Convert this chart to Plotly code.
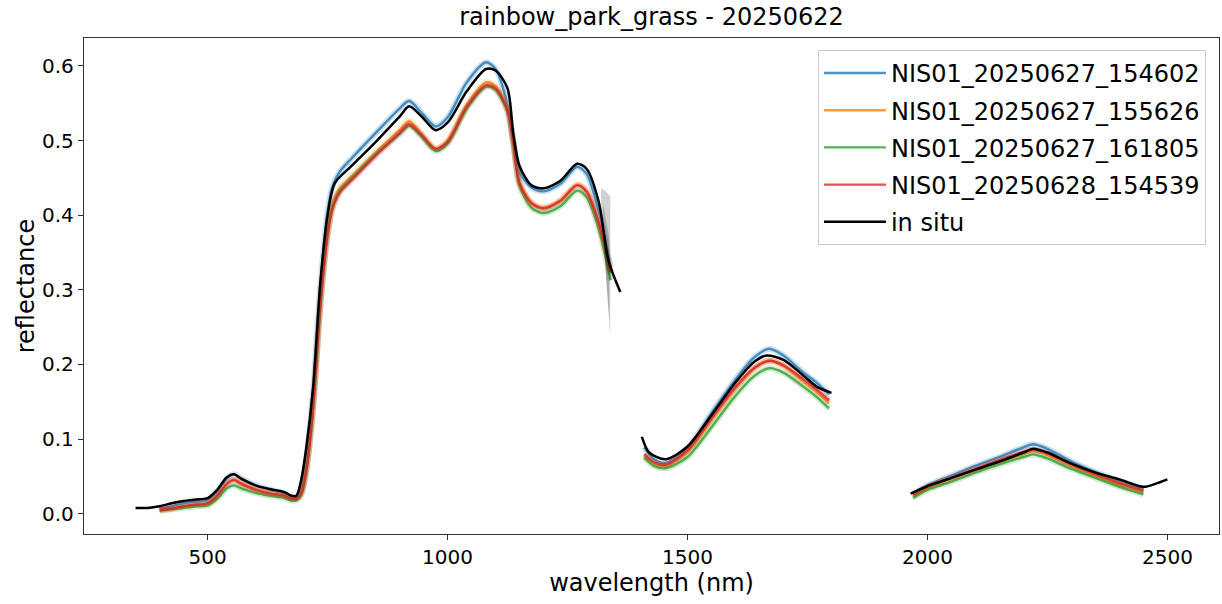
import plotly.graph_objects as go

# ---------------- data ----------------
series_names = ["NIS01_20250627_154602", "NIS01_20250627_155626",
                "NIS01_20250627_161805", "NIS01_20250628_154539"]

nis_wl = [400, 425, 450, 475, 500, 520, 540, 555, 570, 600, 630, 660, 675, 685, 695,
          705, 720, 735, 750, 760, 775, 800, 850, 900, 920, 945, 975, 1000, 1040, 1080,
          1100, 1125, 1137, 1150, 1175, 1200, 1235, 1270, 1290, 1315, 1340, None,
          1410, 1430, 1455, 1500, 1550, 1600, 1640, 1670, 1700, 1740, 1770, 1795, None,
          1970, 2000, 2050, 2100, 2150, 2200, 2220, 2250, 2300, 2350, 2400, 2450]

nis_154602 = [.007, .010, .014, .016, .018, .029, .047, .053, .047, .038, .032, .027, .022, .022, .033,
              .070, .165, .305, .405, .438, .458, .476, .510, .543, .553, .538, .519, .531, .578, .605,
              .596, .548, .500, .458, .437, .432, .442, .465, .455, .405, .330, None,
              .089, .073, .068, .088, .135, .180, .210, .221, .212, .190, .175, .160, None,
              .026, .038, .051, .064, .076, .089, .093, .087, .070, .056, .044, .033]

nis_155626 = [.005, .007, .010, .012, .014, .024, .040, .046, .041, .033, .028, .024, .020, .020, .028,
              .058, .148, .285, .380, .415, .436, .452, .484, .514, .526, .510, .489, .500, .548, .578,
              .573, .543, .498, .445, .417, .410, .420, .441, .432, .390, .322, None,
              .078, .068, .064, .083, .126, .168, .195, .205, .198, .178, .163, .148, None,
              .024, .035, .047, .059, .070, .080, .084, .079, .064, .051, .039, .029]

nis_161805 = [.004, .006, .008, .010, .011, .020, .034, .038, .034, .028, .024, .021, .0175, .018, .025,
              .053, .142, .280, .375, .410, .432, .449, .481, .509, .520, .506, .486, .496, .543, .572,
              .568, .540, .500, .440, .410, .403, .412, .433, .424, .382, .313, None,
              .075, .064, .061, .076, .116, .158, .185, .195, .189, .171, .156, .141, None,
              .021, .032, .043, .055, .066, .076, .0795, .074, .060, .048, .036, .026]

nis_154539 = [.005, .007, .010, .012, .014, .024, .040, .045, .040, .032, .027, .024, .020, .020, .027,
              .055, .142, .278, .372, .408, .430, .447, .480, .510, .522, .508, .489, .498, .545, .574,
              .570, .540, .495, .442, .416, .409, .419, .440, .431, .390, .324, None,
              .080, .069, .066, .085, .128, .170, .196, .205, .199, .181, .166, .152, None,
              .025, .036, .048, .060, .072, .083, .086, .081, .066, .053, .041, .031]

insitu_wl = [350, 375, 400, 425, 450, 475, 500, 520, 540, 555, 570, 600, 630, 660, 675, 685,
             695, 705, 720, 735, 750, 765, 800, 850, 900, 920, 945, 975, 1000, 1040, 1080,
             1100, 1125, 1137, 1150, 1175, 1200, 1235, 1270, 1290, 1315, 1335, 1360, None,
             1405, 1420, 1455, 1500, 1550, 1600, 1640, 1665, 1700, 1740, 1770, 1800, None,
             1965, 2000, 2050, 2100, 2150, 2200, 2220, 2250, 2300, 2350, 2400, 2450, 2475, 2500]

insitu = [.0075, .0078, .010, .014, .017, .019, .021, .032, .049, .053, .047, .038, .033, .029, .024, .024,
          .045, .085, .170, .310, .400, .443, .466, .498, .532, .546, .533, .514, .524, .566, .596,
          .594, .570, .509, .466, .440, .436, .446, .469, .462, .418, .340, .297, None,
          .103, .082, .073, .090, .132, .176, .204, .212, .206, .186, .170, .162, None,
          .027, .037, .048, .059, .070, .082, .087, .082, .067, .055, .046, .036, .040, .046]

# in situ spread near the end of the NIR segment
insitu_band_wl = [1320, 1326, 1332, 1339]
insitu_band_hi = [.436, .434, .430, .425]
insitu_band_lo = [.410, .360, .300, .237]
insitu_inner_wl = [1324, 1330, 1337]
insitu_inner_hi = [.415, .395, .370]
insitu_inner_lo = [.385, .320, .260]

colors = ["#1f77b4", "#ff7f0e", "#2ca02c", "#d62728"]
nis_values = [nis_154602, nis_155626, nis_161805, nis_154539]

# ---------------- figure ----------------
FONT = "DejaVu Sans"
fig = go.Figure()

def rgba(hexc, a):
    h = hexc.lstrip("#")
    return "rgba(%d,%d,%d,%.2f)" % (int(h[0:2], 16), int(h[2:4], 16), int(h[4:6], 16), a)

for i, (name, vals, col) in enumerate(zip(series_names, nis_values, colors)):
    # faint halo (spread) under each line
    fig.add_trace(go.Scatter(x=nis_wl, y=vals, mode="lines", showlegend=False,
                             legendgroup="g%d" % i, hoverinfo="skip",
                             line=dict(color=rgba(col, 0.22), width=6, shape="spline", smoothing=0.8)))
    fig.add_trace(go.Scatter(x=nis_wl, y=vals, mode="lines", name=name,
                             legendgroup="g%d" % i,
                             line=dict(color=rgba(col, 0.8), width=2.4, shape="spline", smoothing=0.8)))

fig.add_trace(go.Scatter(x=insitu_band_wl + insitu_band_wl[::-1],
                         y=insitu_band_hi + insitu_band_lo[::-1],
                         fill="toself", fillcolor="rgba(0,0,0,0.18)", mode="lines",
                         line=dict(width=0), showlegend=False, hoverinfo="skip"))
fig.add_trace(go.Scatter(x=insitu_inner_wl + insitu_inner_wl[::-1],
                         y=insitu_inner_hi + insitu_inner_lo[::-1],
                         fill="toself", fillcolor="rgba(0,0,0,0.18)", mode="lines",
                         line=dict(width=0), showlegend=False, hoverinfo="skip"))

fig.add_trace(go.Scatter(x=insitu_wl, y=insitu, mode="lines", name="in situ",
                         legendgroup="g4",
                         line=dict(color="black", width=2.5, shape="spline", smoothing=0.8)))

axis_common = dict(showgrid=False, zeroline=False, showline=True, mirror=True, automargin=False,
                   linecolor="#333333", linewidth=1.3, ticks="outside", ticklen=5,
                   tickwidth=1.2, tickcolor="#333333",
                   tickfont=dict(family=FONT, size=20, color="black"))

fig.update_layout(
    template="none",
    width=1222, height=604,
    margin=dict(l=84, r=3, t=38, b=70, pad=0),
    paper_bgcolor="white", plot_bgcolor="white",
    font=dict(family=FONT, color="black"),
    title=dict(text="rainbow_park_grass - 20250622", x=651.5 / 1222,
               xanchor="center", y=1 - 17 / 604, yanchor="middle",
               font=dict(family=FONT, size=24, color="black")),
    xaxis=dict(range=[242.5, 2607.5], tickvals=[500, 1000, 1500, 2000, 2500],
               title=dict(text="wavelength (nm)", font=dict(family=FONT, size=24), standoff=4),
               **axis_common),
    yaxis=dict(range=[-0.0272, 0.6375], tickvals=[0, 0.1, 0.2, 0.3, 0.4, 0.5, 0.6],
               tickformat=".1f",
               title=dict(text="reflectance", font=dict(family=FONT, size=24), standoff=0),
               **axis_common),
    legend=dict(x=0.9885, xanchor="right", y=0.976, yanchor="top",
                bgcolor="rgba(255,255,255,0.8)", bordercolor="#cccccc", borderwidth=1,
                font=dict(family=FONT, size=24, color="black"),
                itemwidth=62,
                tracegroupgap=3, traceorder="grouped"),
    showlegend=True,
)

fig.write_html("out.html", config={"displayModeBar": False},
               post_script="document.body.style.margin='0';")
